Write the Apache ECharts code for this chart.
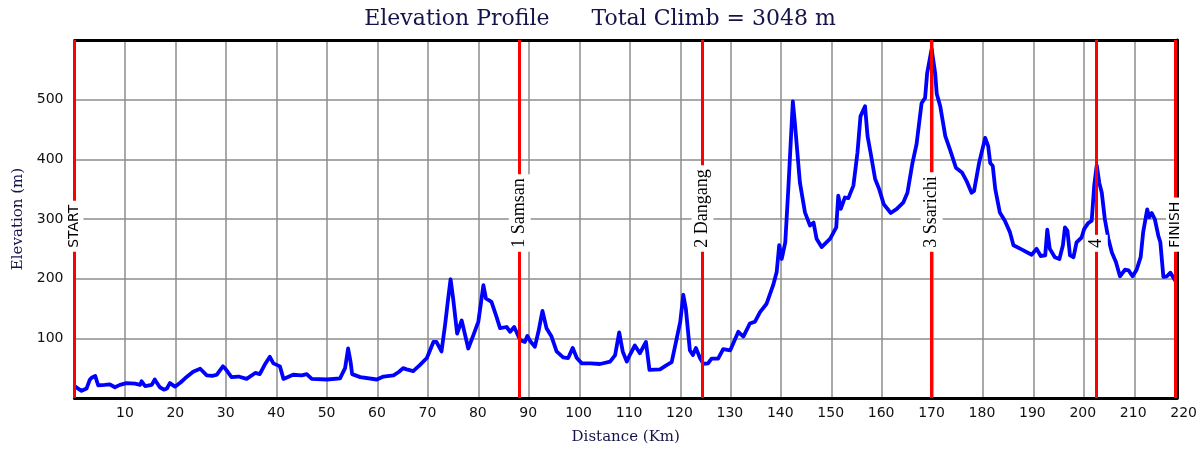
<!DOCTYPE html>
<html>
<head>
<meta charset="utf-8">
<script src="https://cdn.jsdelivr.net/npm/echarts@6/dist/echarts.min.js"></script>
<style>
  html, body { margin: 0; padding: 0; background: #fff; }
  #chart { width: 1200px; height: 450px; }
</style>
</head>
<body>
<div id="chart"></div>
<script>
// profile points, distance (km) and elevation (m)
const distKm = [
  0, 0.5, 1.4, 2.4, 3.0, 3.4, 4.1, 4.7, 6.0, 7.0, 8.0, 9.0, 10.3, 12.0, 13.0, 13.3, 14.0, 15.3, 15.9, 16.9,
  17.7, 18.3, 18.9, 19.9, 21.0, 21.9, 23.5, 24.9, 26.2, 27.3, 28.2, 29.4, 29.8, 31.1, 32.5, 34.1, 35.8, 36.7, 37.7, 38.7,
  39.4, 40.7, 41.4, 43.3, 45.0, 46.0, 47.0, 50.0, 52.6, 53.6, 54.2, 54.7, 55.0, 56.6, 59.9, 61.2, 63.2, 64.3, 65.1, 65.8,
  67.1, 68.4, 69.8, 71.1, 71.7, 72.7, 73.4, 74.0, 74.5, 75.0, 75.8, 76.7, 78.0, 79.0, 80.0, 81.0, 81.5, 82.6, 83.6, 84.3,
  85.6, 86.3, 87.1, 88.3, 89.2, 89.7, 90.3, 91.2, 91.9, 92.7, 93.5, 94.5, 95.5, 96.8, 97.8, 98.7, 99.5, 100.5, 102.2, 104.1,
  106.1, 107.1, 107.9, 108.6, 109.4, 110.0, 111.0, 112.0, 113.2, 113.9, 116.0, 117.3, 118.3, 119.3, 120.0, 120.6, 121.1, 121.9, 122.5, 123.1,
  123.9, 124.6, 125.5, 126.2, 127.5, 128.5, 129.9, 131.5, 132.5, 133.8, 134.8, 135.8, 137.1, 138.4, 139.1, 139.6, 140.1, 140.8, 141.4, 142.3,
  142.7, 143.7, 144.7, 145.7, 146.4, 147.0, 148.0, 149.7, 150.9, 151.3, 151.8, 152.6, 153.3, 154.3, 155.1, 155.7, 156.6, 157.1, 157.7, 158.6,
  159.4, 160.3, 161.7, 162.9, 164.2, 165.0, 166.0, 166.8, 167.8, 168.5, 168.9, 169.8, 170.5, 170.8, 171.5, 172.5, 173.4, 174.6, 175.8, 176.7,
  177.7, 178.2, 179.2, 180.4, 181.0, 181.4, 181.9, 182.4, 183.3, 184.3, 185.3, 186.0, 187.6, 189.6, 190.6, 191.4, 192.3, 192.7, 193.2, 194.2,
  195.1, 195.8, 196.2, 196.7, 197.2, 197.9, 198.5, 199.5, 200.0, 200.8, 201.5, 202.0, 202.5, 203.0, 203.5, 204.1, 204.8, 205.5, 206.3, 207.1,
  208.1, 208.8, 209.6, 210.4, 211.2, 211.7, 212.5, 212.9, 213.4, 214.0, 214.7, 215.1, 215.7, 216.4, 217.1, 218.1
]
const elevM = [
  20, 17, 12, 16, 30, 34, 37, 21, 22, 23, 18, 22, 25, 24, 22, 28, 20, 22, 31, 18,
  14, 16, 25, 19, 26, 33, 44, 49, 38, 37, 39, 53, 50, 35, 36, 32, 42, 40, 56, 69,
  58, 53, 32, 39, 38, 40, 32, 31, 33, 50, 83, 60, 40, 35, 31, 36, 38, 44, 50, 48,
  45, 55, 67, 94, 94, 78, 122, 165, 199, 167, 108, 130, 83, 105, 128, 189, 167, 161, 136, 117,
  119, 111, 119, 97, 94, 104, 95, 86, 111, 146, 117, 103, 78, 68, 67, 84, 67, 58, 58, 57,
  61, 72, 110, 78, 61, 72, 88, 75, 94, 47, 48, 55, 60, 100, 128, 173, 150, 80, 72, 84,
  67, 57, 58, 66, 66, 82, 80, 111, 103, 125, 128, 144, 158, 189, 211, 256, 233, 261, 350, 497,
  461, 361, 311, 289, 294, 267, 253, 267, 286, 339, 317, 336, 335, 356, 411, 472, 489, 439, 411, 367,
  350, 325, 310, 317, 328, 344, 394, 425, 494, 503, 544, 585, 544, 510, 489, 439, 417, 386, 378, 364,
  344, 347, 394, 436, 422, 394, 389, 350, 311, 297, 278, 256, 249, 240, 250, 238, 239, 282, 250, 236,
  233, 256, 286, 280, 239, 236, 261, 269, 283, 293, 297, 356, 390, 361, 344, 300, 267, 244, 228, 204,
  215, 214, 204, 215, 236, 278, 316, 303, 310, 300, 272, 261, 203, 204, 210, 196
]

// climbs / checkpoints
const markNames = ['START', '1 Samsan', '2 Dangang', '3 Ssarichi', '4', 'FINISH']
const markKm = [0, 88.2, 124.4, 169.8, 202.5, 218.0]
const markLabelElev = 245

const profile = distKm.map((d, i) => [d, elevM[i]])

const chart = echarts.init(document.getElementById('chart'))

const serif = 'DejaVu Serif'
const navy = '#14144a'
const frame = { show: true, onZero: false, lineStyle: { color: '#000', width: 3 } }

chart.setOption({
  animation: false,
  title: {
    text: 'Elevation Profile      Total Climb = 3048 m',
    left: 'center',
    top: 3,
    textStyle: { fontFamily: serif, fontWeight: 'normal', fontSize: 22, color: navy }
  },
  grid: [
    { left: 74.5, right: 23, top: 40, bottom: 50 },
    // only used to place the bottom tick labels (runs to 220)
    { left: 74.5, right: 14.5, top: 40, bottom: 50 }
  ],
  xAxis: [
    {
      gridIndex: 0,
      type: 'value',
      min: 0,
      max: 218.4,
      interval: 10,
      axisLine: frame,
      axisTick: { show: false },
      axisLabel: { show: false },
      splitLine: { lineStyle: { color: '#8c8c8c', width: 1.5 } },
      name: 'Distance (Km)',
      nameLocation: 'middle',
      nameGap: 32,
      nameTextStyle: { fontFamily: serif, fontSize: 15, color: navy }
    },
    {
      gridIndex: 1,
      type: 'value',
      min: 0,
      max: 220,
      interval: 10,
      axisLine: { show: false },
      axisTick: { show: false },
      splitLine: { show: false },
      axisLabel: {
        showMinLabel: false,
        margin: 6,
        fontFamily: 'DejaVu Sans',
        fontSize: 14,
        color: '#111'
      }
    },
    {
      // top edge of the frame
      gridIndex: 0,
      type: 'value',
      position: 'top',
      min: 0,
      max: 218.4,
      axisLine: frame,
      axisTick: { show: false },
      axisLabel: { show: false },
      splitLine: { show: false }
    }
  ],
  yAxis: [
    {
      gridIndex: 0,
      type: 'value',
      min: 0,
      max: 600,
      interval: 100,
      axisLine: { show: false },
      axisTick: { show: false },
      axisLabel: {
        showMinLabel: false,
        showMaxLabel: false,
        margin: 11,
        fontFamily: 'DejaVu Sans',
        fontSize: 14,
        color: '#111'
      },
      splitLine: { lineStyle: { color: '#8c8c8c', width: 1.5 } },
      name: 'Elevation (m)',
      nameLocation: 'middle',
      nameGap: 47,
      nameTextStyle: { fontFamily: serif, fontSize: 15, color: navy }
    },
    {
      gridIndex: 1,
      type: 'value',
      min: 0,
      max: 600,
      show: false
    },
    {
      // right edge of the frame
      gridIndex: 0,
      type: 'value',
      position: 'right',
      min: 0,
      max: 600,
      axisLine: frame,
      axisTick: { show: false },
      axisLabel: { show: false },
      splitLine: { show: false }
    }
  ],
  series: [
    {
      // red marker lines under the profile
      type: 'line',
      xAxisIndex: 0,
      yAxisIndex: 0,
      data: [],
      z: 1,
      clip: false,
      markLine: {
        silent: true,
        symbol: 'none',
        label: { show: false },
        lineStyle: { color: '#ff0000', width: 3, type: 'solid' },
        data: markKm.map(k => ({ xAxis: k }))
      }
    },
    {
      name: 'profile',
      type: 'line',
      xAxisIndex: 0,
      yAxisIndex: 0,
      data: profile,
      showSymbol: false,
      smooth: false,
      z: 3,
      lineStyle: { color: '#0000ff', width: 3.8, join: 'round' }
    },
    {
      // checkpoint names, written upward from the label height
      type: 'scatter',
      xAxisIndex: 0,
      yAxisIndex: 0,
      symbolSize: 0,
      z: 5,
      clip: false,
      itemStyle: { opacity: 1 },
      data: markKm.map((k, i) => ({
        value: [k, markLabelElev],
        label: (i === 0 || i === 5)
          ? { fontFamily: 'DejaVu Sans', fontSize: 14 }
          : { fontFamily: 'Liberation Serif', fontSize: 18 }
      })),
      label: {
        show: true,
        position: 'inside',
        rotate: 90,
        align: 'left',
        verticalAlign: 'middle',
        color: '#000',
        opacity: 1,
        backgroundColor: '#fff',
        padding: [2, 4, 2, 4],
        formatter: p => markNames[p.dataIndex]
      }
    }
  ]
})
</script>
</body>
</html>
